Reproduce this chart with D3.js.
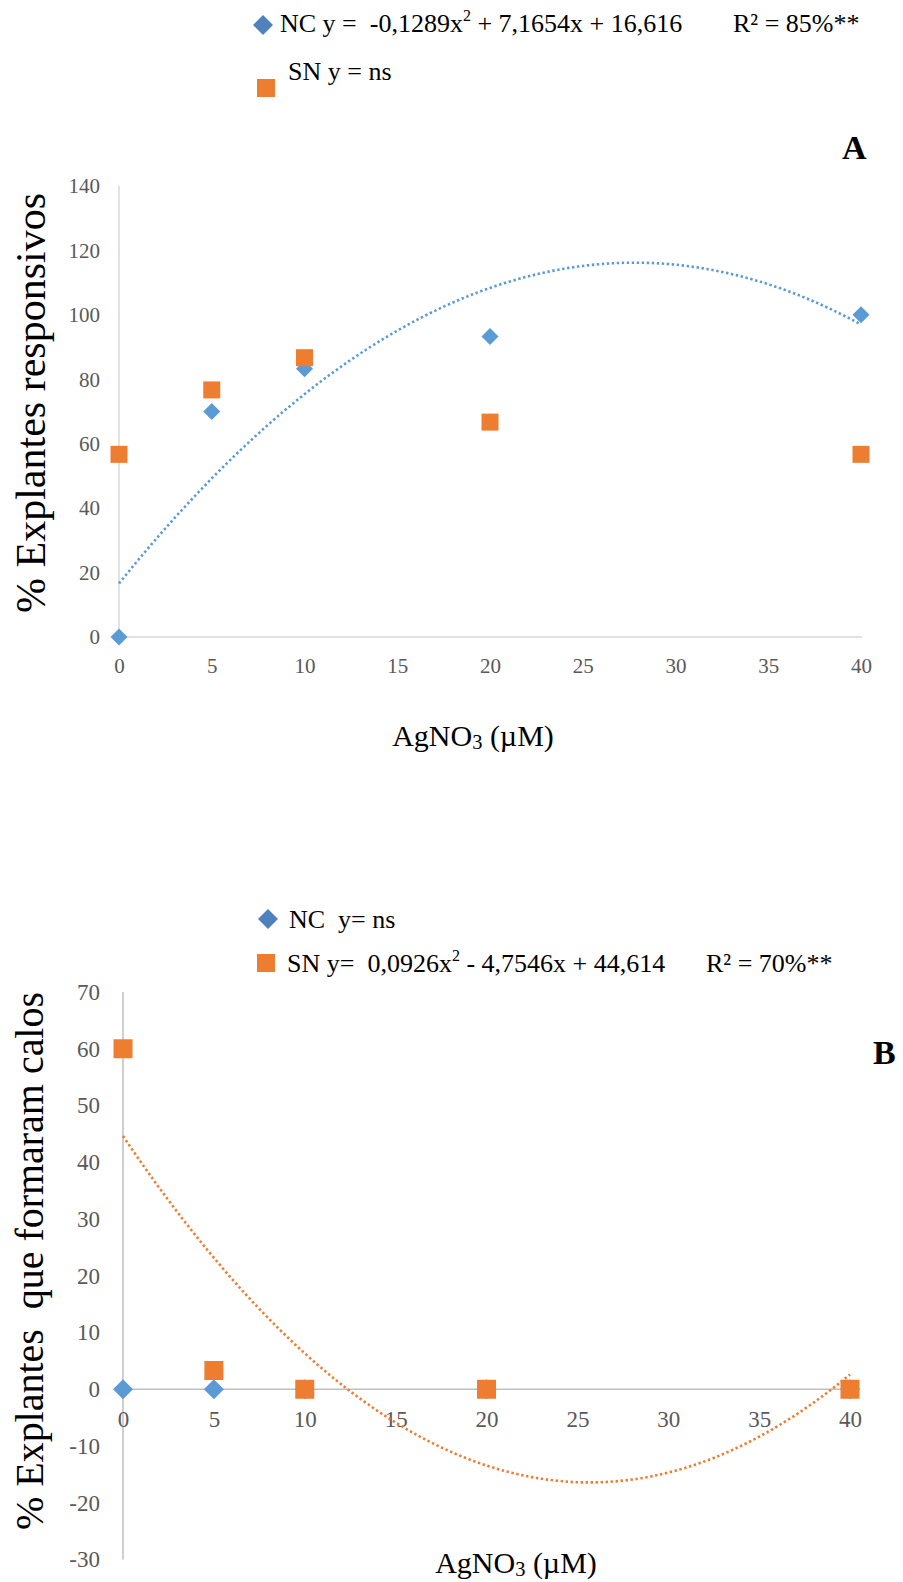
<!DOCTYPE html>
<html>
<head>
<meta charset="utf-8">
<script src="https://cdn.jsdelivr.net/npm/d3@7"></script>
<style>
  html, body { margin: 0; padding: 0; background: #fff; }
  svg { display: block; }
  text { font-family: "Liberation Serif", "Times New Roman", serif; white-space: pre; }
</style>
</head>
<body>
<div id="chart"></div>
<script>
// ---- data ----
const concentrations = [0, 5, 10, 20, 40];
const xTicks = [0, 5, 10, 15, 20, 25, 30, 35, 40];

// Panel A: % explantes responsivos
const ncA = [0, 70, 83.3, 93.3, 100];
const snA = [56.7, 76.7, 86.7, 66.7, 56.7];
const yTicksA = [0, 20, 40, 60, 80, 100, 120, 140];
const trendCoefA = [-0.1289, 7.1654, 16.616]; // NC quadratic fit

// Panel B: % explantes que formaram calos
const ncB = [0, 0, 0, 0, 0];
const snB = [60, 3.3, 0, 0, 0];
const yTicksB = [-30, -20, -10, 0, 10, 20, 30, 40, 50, 60, 70];
const trendCoefB = [0.0926, -4.7546, 44.614]; // SN quadratic fit

const W = 903, H = 1582;
const BLUE = "#5B9BD5", ORANGE = "#ED7D31", BLUE_LEG = "#4F81BD";

const svg = d3.select("#chart").append("svg")
  .attr("width", W).attr("height", H).attr("viewBox", `0 0 ${W} ${H}`);
svg.append("rect").attr("width", W).attr("height", H).attr("fill", "#fff");

const quad = c => x => c[0] * x * x + c[1] * x + c[2];
const fmt = d => String(d);

function panel(cfg) {
  const g = svg.append("g");
  const x = d3.scaleLinear().domain([0, 40]).range(cfg.xRange);
  const y = d3.scaleLinear().domain(cfg.yDomain).range(cfg.yRange);

  // axis lines
  g.append("line")
    .attr("x1", x(0)).attr("x2", x(0))
    .attr("y1", y(cfg.yDomain[0])).attr("y2", y(cfg.yDomain[1]))
    .attr("stroke", cfg.axisColor).attr("stroke-width", 1.5);
  g.append("line")
    .attr("x1", x(0)).attr("x2", x(40) + cfg.xExtend)
    .attr("y1", y(0)).attr("y2", y(0))
    .attr("stroke", cfg.axisColor).attr("stroke-width", 1.5);

  // y axis ticks
  const ya = g.append("g").attr("transform", `translate(${x(0)},0)`)
    .call(d3.axisLeft(y).tickValues(cfg.yTicks).tickSize(0).tickPadding(cfg.yPad).tickFormat(fmt));
  ya.attr("font-family", "Liberation Serif").attr("font-size", cfg.tickFont);
  ya.select(".domain").remove();
  ya.selectAll("text").attr("fill", "#595959");

  // x axis ticks
  const xa = g.append("g").attr("transform", `translate(0,${y(0)})`)
    .call(d3.axisBottom(x).tickValues(xTicks).tickSize(0).tickPadding(cfg.xPad).tickFormat(fmt));
  xa.attr("font-family", "Liberation Serif").attr("font-size", cfg.tickFont);
  xa.select(".domain").remove();
  xa.selectAll("text").attr("fill", "#595959");

  // NC diamonds
  const ds = cfg.diamond;
  g.selectAll(".nc").data(concentrations.map((c, i) => [c, cfg.nc[i]])).enter()
    .append("path")
    .attr("d", `M0,${-ds / 2}L${ds / 2},0L0,${ds / 2}L${-ds / 2},0Z`)
    .attr("transform", d => `translate(${x(d[0])},${y(d[1])})`)
    .attr("fill", BLUE);

  // SN squares
  const ss = cfg.square;
  g.selectAll(".sn").data(concentrations.map((c, i) => [c, cfg.sn[i]])).enter()
    .append("rect")
    .attr("x", d => x(d[0]) - ss / 2).attr("y", d => y(d[1]) - ss / 2)
    .attr("width", ss).attr("height", ss)
    .attr("fill", ORANGE);

  // trend line from fitted equation
  const f = quad(cfg.trend);
  const pts = d3.range(0, 40.001, 0.25).map(v => [v, f(v)]);
  g.append("path").datum(pts)
    .attr("d", d3.line().x(d => x(d[0])).y(d => y(d[1])))
    .attr("fill", "none").attr("stroke", cfg.trendColor)
    .attr("stroke-width", 2.6).attr("stroke-dasharray", "2.4,2.6");

  // y title
  g.append("text")
    .attr("transform", `translate(${cfg.yTitlePos[0]},${cfg.yTitlePos[1]}) rotate(-90)`)
    .attr("text-anchor", "middle").attr("font-size", cfg.yTitleFont)
    .attr("textLength", cfg.yTitleLen).attr("lengthAdjust", "spacingAndGlyphs")
    .attr("fill", "#000").text(cfg.yTitle);

  // x title
  const xt = g.append("text")
    .attr("x", cfg.xTitlePos[0]).attr("y", cfg.xTitlePos[1])
    .attr("text-anchor", "middle").attr("font-size", cfg.xTitleFont).attr("fill", "#000");
  xt.append("tspan").text("AgNO");
  xt.append("tspan").attr("font-size", cfg.xTitleFont * 0.68).attr("dy", 3).text("3");
  xt.append("tspan").attr("dy", -3).text(" (µM)");

  // panel letter
  g.append("text").attr("x", cfg.letterPos[0]).attr("y", cfg.letterPos[1])
    .attr("font-size", 34).attr("font-weight", "bold").attr("fill", "#000")
    .text(cfg.letter);
  return { x, y };
}

panel({
  xRange: [119, 861], yDomain: [0, 140], yRange: [637, 186],
  yTicks: yTicksA, xExtend: 1, axisColor: "#D9D9D9",
  yPad: 19, xPad: 21, tickFont: 21,
  nc: ncA, sn: snA, diamond: 17, square: 17,
  trend: trendCoefA, trendColor: BLUE,
  yTitle: "% Explantes responsivos", yTitlePos: [45, 403], yTitleFont: 42, yTitleLen: 420,
  xTitlePos: [473, 746], xTitleFont: 30,
  letter: "A", letterPos: [842, 159]
});

panel({
  xRange: [123, 850], yDomain: [-30, 70], yRange: [1559.5, 992],
  yTicks: yTicksB, xExtend: 10, axisColor: "#BFBFBF",
  yPad: 23, xPad: 21, tickFont: 23,
  nc: ncB, sn: snB, diamond: 20, square: 19,
  trend: trendCoefB, trendColor: ORANGE,
  yTitle: "% Explantes  que formaram calos", yTitlePos: [43, 1261], yTitleFont: 41, yTitleLen: 538,
  xTitlePos: [516, 1573], xTitleFont: 30,
  letter: "B", letterPos: [873, 1064]
});

// ---- legends ----
function diamond(cx, cy, s, color) {
  svg.append("path").attr("d", `M0,${-s / 2}L${s / 2},0L0,${s / 2}L${-s / 2},0Z`)
    .attr("transform", `translate(${cx},${cy})`).attr("fill", color);
}
function square(cx, cy, s, color) {
  svg.append("rect").attr("x", cx - s / 2).attr("y", cy - s / 2)
    .attr("width", s).attr("height", s).attr("fill", color);
}
function eqText(xp, yp, pre, sup, post) {
  const t = svg.append("text").attr("x", xp).attr("y", yp).attr("font-size", 26).attr("fill", "#000");
  t.append("tspan").text(pre);
  t.append("tspan").attr("font-size", 16).attr("dy", -11).text(sup);
  t.append("tspan").attr("dy", 11).text(post);
  return t;
}

// Legend A
diamond(263, 25, 20, BLUE_LEG);
eqText(280, 32, "NC y =  -0,1289x", "2", " + 7,1654x + 16,616");
svg.append("text").attr("x", 733).attr("y", 32).attr("font-size", 26).text("R² = 85%**");
square(266, 88, 18, ORANGE);
svg.append("text").attr("x", 288).attr("y", 80).attr("font-size", 26).text("SN y = ns");

// Legend B
diamond(268, 919, 20, BLUE_LEG);
svg.append("text").attr("x", 289).attr("y", 928).attr("font-size", 26).text("NC  y= ns");
square(266, 963, 18, ORANGE);
eqText(287, 972, "SN y=  0,0926x", "2", " - 4,7546x + 44,614");
svg.append("text").attr("x", 706).attr("y", 972).attr("font-size", 26).text("R² = 70%**");
</script>
</body>
</html>
